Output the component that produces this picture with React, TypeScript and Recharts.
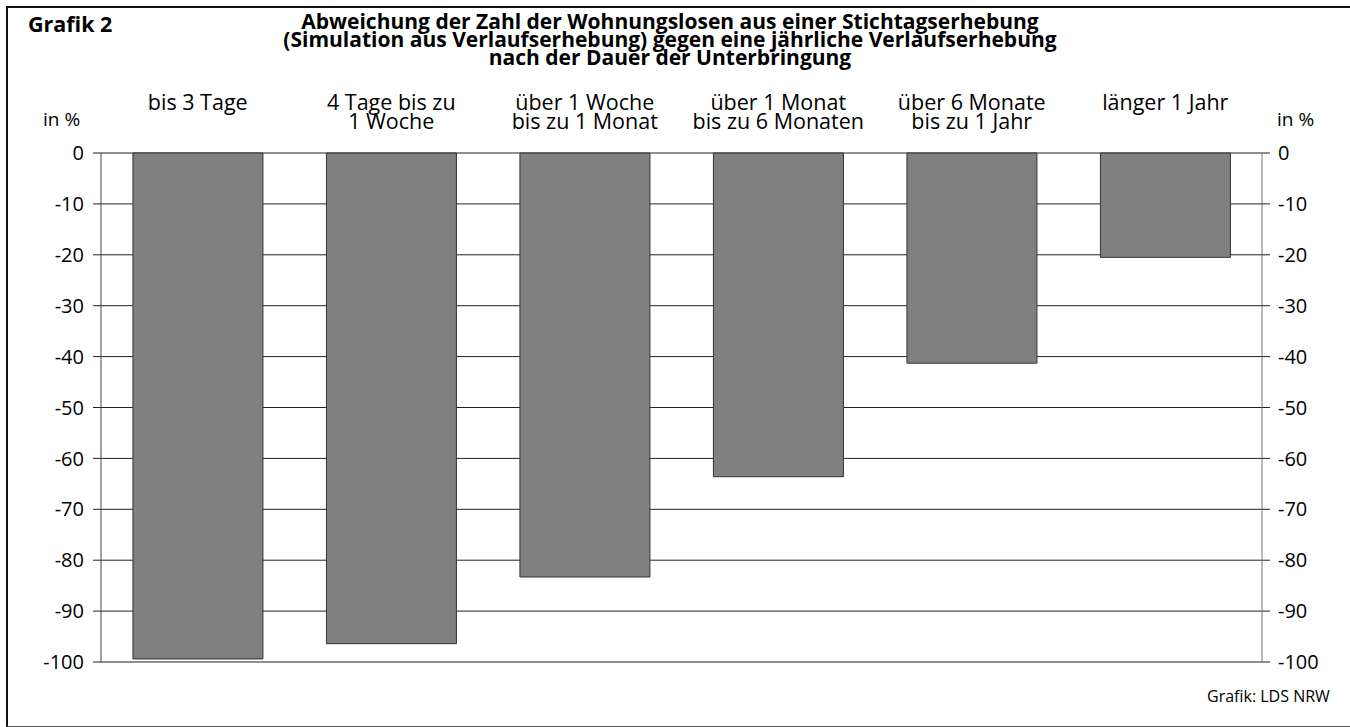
import { Bar, ComposedChart, CartesianGrid, Line, XAxis, YAxis } from 'recharts';

const CATEGORIES = [
  'bis 3 Tage',
  '4 Tage bis zu\n1 Woche',
  'über 1 Woche\nbis zu 1 Monat',
  'über 1 Monat\nbis zu 6 Monaten',
  'über 6 Monate\nbis zu 1 Jahr',
  'länger 1 Jahr',
];
const DEVIATION = [-99.4, -96.4, -83.3, -63.6, -41.3, -20.5];
const Y_TICKS = [0, -10, -20, -30, -40, -50, -60, -70, -80, -90, -100];
const TITLE = [
  'Abweichung der Zahl der Wohnungslosen aus einer Stichtagserhebung',
  '(Simulation aus Verlaufserhebung) gegen eine jährliche Verlaufserhebung',
  'nach der Dauer der Unterbringung',
];

const FONT = '"Open Sans", "DejaVu Sans", sans-serif';

const data = CATEGORIES.map((label, i) => ({ label, value: DEVIATION[i] }));

function CategoryTick({ x, payload }: any) {
  const lines = String(payload.value).split('\n');
  return (
    <text x={x} y={110} textAnchor="middle" fill="#000" fontSize={21.5} fontFamily={FONT}>
      {lines.map((l, i) => (
        <tspan key={i} x={x} dy={i === 0 ? 0 : 19}>
          {l}
        </tspan>
      ))}
    </text>
  );
}

export default function App() {
  return (
    <div style={{ position: 'absolute', left: 0, top: 0, width: 1350, height: 727, background: '#fff', fontFamily: FONT, overflow: 'hidden' }}>
      {/* frame */}
      <div
        style={{
          position: 'absolute',
          left: 6,
          top: 6,
          width: 1360,
          height: 718,
          borderTop: '2px solid #111',
          borderLeft: '2px solid #111',
          borderBottom: '1px solid #555',
        }}
      />
      <div style={{ position: 'absolute', left: 28, top: 13, fontSize: 21.5, fontWeight: 700, lineHeight: '22px' }}>
        Grafik 2
      </div>
      <div
        style={{
          position: 'absolute',
          left: 150,
          width: 1040,
          top: 12,
          textAlign: 'center',
          fontSize: 21,
          fontWeight: 700,
          lineHeight: '18px',
        }}
      >
        {TITLE.map((t) => (
          <div key={t}>{t}</div>
        ))}
      </div>
      <div style={{ position: 'absolute', left: 43, top: 106, fontSize: 19 }}>in %</div>
      <div style={{ position: 'absolute', left: 1277, top: 106, fontSize: 19 }}>in %</div>
      <div style={{ position: 'absolute', left: 1207, top: 685, fontSize: 16 }}>Grafik: LDS NRW</div>

      <div style={{ position: 'absolute', left: 0, top: 0 }}>
        <ComposedChart
          width={1350}
          height={727}
          data={data}
          margin={{ top: 0, right: 0, bottom: 65, left: 0 }}
          barCategoryGap="16.5%"
        >
          <CartesianGrid yAxisId="left" vertical={false} stroke="#222" strokeWidth={1} />
          <XAxis
            dataKey="label"
            orientation="top"
            height={153}
            axisLine={false}
            tickLine={false}
            interval={0}
            tick={<CategoryTick />}
          />
          <YAxis
            yAxisId="left"
            orientation="left"
            width={101}
            domain={[-100, 0]}
            ticks={Y_TICKS}
            interval={0}
            stroke="#444"
            tickSize={8}
            tickMargin={9}
            tickLine={{ stroke: '#222' }}
            tick={{ fill: '#000', fontSize: 20, fontFamily: FONT }}
          />
          <YAxis
            yAxisId="right"
            orientation="right"
            width={88}
            domain={[-100, 0]}
            ticks={Y_TICKS}
            interval={0}
            stroke="#777"
            tickSize={8}
            tickMargin={8}
            tickLine={{ stroke: '#222' }}
            tick={{ fill: '#000', fontSize: 20, fontFamily: FONT }}
          />
          <Bar
            yAxisId="left"
            dataKey="value"
            fill="#808080"
            stroke="#333"
            strokeWidth={1}
            isAnimationActive={false}
          />
          <Line
            yAxisId="right"
            dataKey="value"
            stroke="none"
            dot={false}
            activeDot={false}
            legendType="none"
            isAnimationActive={false}
          />
        </ComposedChart>
      </div>
    </div>
  );
}
